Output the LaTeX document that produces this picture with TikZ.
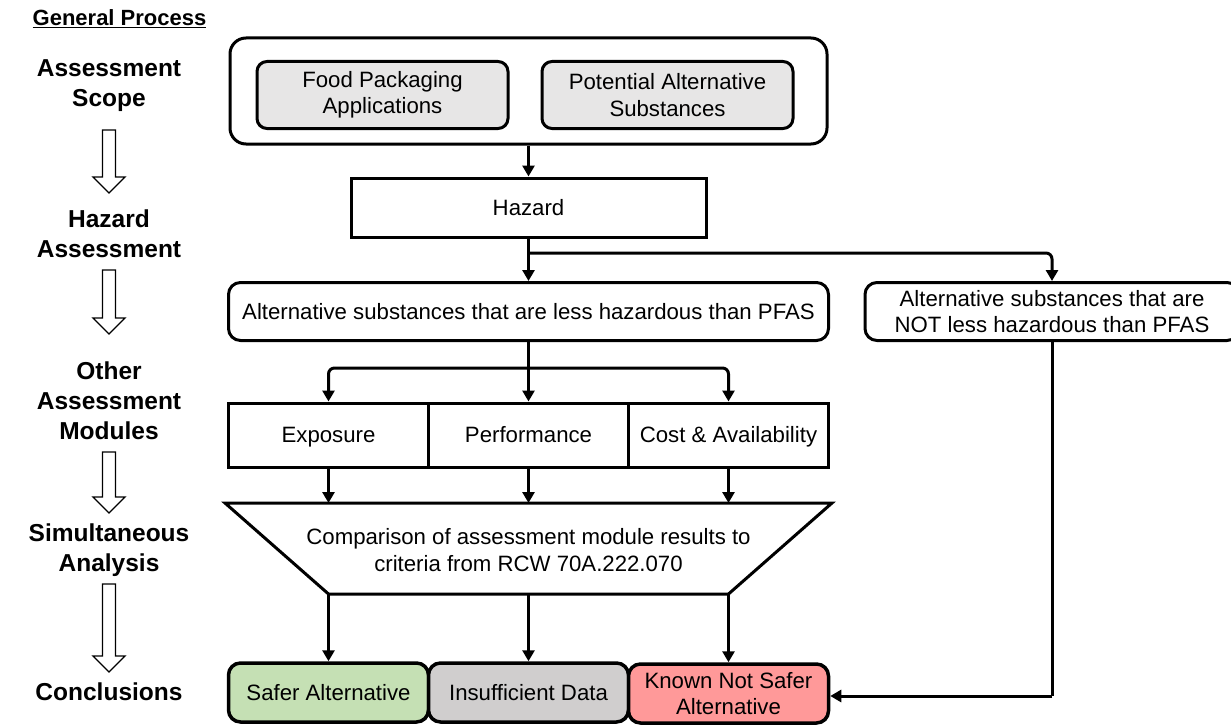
\documentclass[tikz,border=0pt]{standalone}
\usepackage{fontspec}
\setmainfont{Liberation Sans}
\usepackage{tikz}
\usetikzlibrary{arrows.meta}

\definecolor{scopegray}{HTML}{E7E6E6}
\definecolor{safegreen}{HTML}{C5E0B4}
\definecolor{insufgray}{HTML}{D0CECE}
\definecolor{notsafered}{HTML}{FF9999}

% big hollow arrow of the left column: #1 top, #2 tip
\newcommand{\hollowarrow}[2]{%
  \draw[line width=1.3pt, fill=white] (102.5,#1) -- (115.5,#1) -- (115.5,{#2-16}) -- (125,{#2-16})
    -- (109,#2) -- (93,{#2-16}) -- (102.5,{#2-16}) -- cycle;}

\begin{document}
\begin{tikzpicture}[x=1pt, y=-1pt,
  txt/.style={font=\fontsize{22.2}{26.5}\selectfont, align=center},
  oneline/.style={text height=16pt, text depth=0.5pt},
  steplbl/.style={font=\fontsize{24.5}{30}\selectfont\bfseries, align=center},
  plainbox/.style={txt, draw=black, line width=3pt, minimum width=200pt, minimum height=64pt, inner sep=0pt},
  roundbox/.style={plainbox, rounded corners=12pt},
  arr/.style={-{Triangle[width=12pt,length=11pt]}, line width=3pt},
  link/.style={line width=3pt}]

	\useasboundingbox (0,0) rectangle (1231,725);

	% left column
	\node[font=\fontsize{22}{26}\selectfont\bfseries] (title) at (119.5,19) {\underline{General Process}};
	\node[steplbl] (lscope) at (109,86)  {Assessment\\Scope};
	\node[steplbl] (lhaz)   at (109,234) {Hazard\\Assessment};
	\node[steplbl] (loth)   at (109,401) {Other\\Assessment\\Modules};
	\node[steplbl] (lsim)   at (109,550) {Simultaneous\\Analysis};
	\node[steplbl] (lcon)   at (109,692) {Conclusions};

	\hollowarrow{130}{193}
	\hollowarrow{270}{334}
	\hollowarrow{452}{513}
	\hollowarrow{584}{672}

	% assessment scope
	\node[roundbox, rounded corners=16pt, minimum width=597pt, minimum height=106pt] (scope) at (528.5,91) {};
	\node[roundbox, rounded corners=10pt, fill=scopegray, minimum width=251pt, minimum height=67pt] (food) at (382.5,95) {Food Packaging\\Applications};
	\node[roundbox, rounded corners=10pt, fill=scopegray, minimum width=251pt, minimum height=67pt] (subst) at (667.5,95) {Potential Alternative\\Substances};

	% hazard
	\node[plainbox, oneline, minimum width=355pt, minimum height=59pt] (haz) at (528.5,207.5) {Hazard};
	\node[roundbox, oneline, minimum width=600pt, minimum height=58pt] (less) at (528.5,311.5) {Alternative substances that are less hazardous than PFAS};
	\node[roundbox, minimum width=374pt, minimum height=58pt] (notless) at (1052,311.5) {Alternative substances that are\\NOT less hazardous than PFAS};

	% other modules
	\node[plainbox, oneline] (expo) at (328.5,435) {Exposure};
	\node[plainbox, oneline] (perf) at (528.5,435) {Performance};
	\node[plainbox, oneline] (cost) at (728.5,435) {Cost \& Availability};

	% simultaneous analysis
	\coordinate (tl) at (225,503);
	\coordinate (tr) at (832,503);
	\coordinate (br) at (728.5,594);
	\coordinate (bl) at (328.5,594);
	\draw[line width=3pt, line join=miter, fill=white] (tl) -- (tr) -- (br) -- (bl) -- cycle;
	\node[txt] (cmp) at (528.5,550) {Comparison of assessment module results to\\criteria from RCW 70A.222.070};

	% conclusions
	\node[roundbox, oneline, line width=3.5pt, fill=safegreen, minimum height=59pt] (safe) at (328.5,692.5) {Safer Alternative};
	\node[roundbox, oneline, line width=3.5pt, fill=insufgray, minimum height=59pt] (insuf) at (528.5,692.5) {Insufficient Data};
	\node[roundbox, line width=3.5pt, fill=notsafered, minimum height=59pt] (notsafe) at (728.5,693.5) {Known Not Safer\\Alternative};

	% connectors
	\coordinate (split1) at (528.5,253);
	\coordinate (split2) at (528.5,368);
	\coordinate (back) at (1052,696);

	\path[arr] (scope) edge (haz);
	\draw[link] (haz.south) -- (split1);
	\path[arr] (split1) edge (less.north);
	\draw[arr, rounded corners=6pt] (split1) -| (notless.north);

	\draw[link] (less.south) -- (split2);
	\draw[arr, rounded corners=6pt] (split2) -| (expo.north);
	\path[arr] (split2) edge (perf.north);
	\draw[arr, rounded corners=6pt] (split2) -| (cost.north);

	\path[arr] (expo.south) edge (expo.south |- tl);
	\path[arr] (perf.south) edge (perf.south |- tl);
	\path[arr] (cost.south) edge (cost.south |- tl);

	\path[arr] (bl) edge (safe.north);
	\path[arr] (cmp.south |- bl) edge (insuf.north);
	\path[arr] (br) edge (notsafe.north);

	\draw[link] (notless.south) -- (back);
	\path[arr] (back) edge (notsafe.east |- back);

\end{tikzpicture}
\end{document}
